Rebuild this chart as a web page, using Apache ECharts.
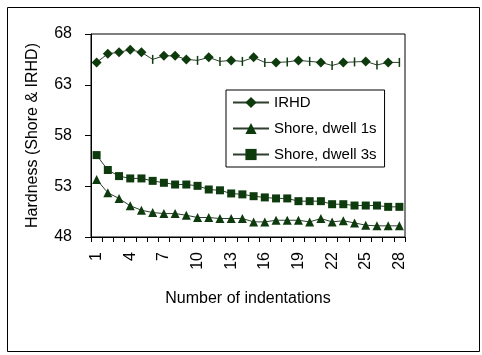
<!DOCTYPE html>
<html><head><meta charset="utf-8">
<script src="https://cdn.jsdelivr.net/npm/echarts@6/dist/echarts.min.js"></script>
<style>html,body{margin:0;padding:0;background:#fff}#c{width:482px;height:355px}</style>
</head><body><div id="c"></div>
<script>
const categories = Array.from({length: 28}, (_, i) => String(i + 1));
const irhd = [65.2,66.05,66.2,66.45,66.2,65.5,65.85,65.85,65.5,65.4,65.7,65.3,65.4,65.3,65.7,65.2,65.2,65.25,65.4,65.3,65.2,64.9,65.2,65.25,65.3,64.95,65.2,65.2];
const shore1s = [53.67,52.35,51.8,51.07,50.64,50.41,50.31,50.31,50.14,49.92,49.92,49.82,49.82,49.82,49.49,49.49,49.65,49.65,49.65,49.49,49.82,49.49,49.6,49.39,49.16,49.1,49.1,49.1];
const shore3s = [56.07,54.6,54.0,53.77,53.77,53.53,53.34,53.17,53.17,53.04,52.68,52.6,52.29,52.2,52.02,51.9,51.8,51.8,51.53,51.53,51.53,51.23,51.23,51.1,51.1,51.1,50.97,50.97];
const seriesNames = ['IRHD', 'Shore, dwell 1s', 'Shore, dwell 3s'];
const yTicks = [48, 53, 58, 63, 68];

// indentations where the IRHD marker is drawn as a plain vertical tick
const irhdTickOnly = [6, 10, 12, 14, 16, 18, 20, 22, 24, 26, 28];

const FONT = 'Liberation Sans, Arial, sans-serif';
const MARK = '#0e3b0e';
const LINE = '#2f3f2f';

const chart = echarts.init(document.getElementById('c'), null, {renderer: 'canvas'});
chart.setOption({
  animation: false,
  backgroundColor: '#fff',
  graphic: [{
    type: 'rect', left: 5, top: 5, shape: {width: 472, height: 344},
    style: {fill: 'none', stroke: '#000', lineWidth: 1}, silent: true
  }],
  grid: {left: 91, right: 77, top: 34, height: 203, show: true, borderColor: '#000', borderWidth: 1, backgroundColor: 'transparent'},
  legend: {
    orient: 'vertical', left: 226, top: 90,
    data: seriesNames,
    backgroundColor: '#fff', borderColor: '#000', borderWidth: 1,
    padding: [5, 8, 5, 6], itemGap: 11, itemWidth: 36, itemHeight: 14,
    textStyle: {fontFamily: FONT, fontSize: 15, color: '#000'}
  },
  xAxis: {
    type: 'category', data: categories, boundaryGap: true,
    name: 'Number of indentations', nameLocation: 'middle', nameGap: 54,
    nameTextStyle: {fontFamily: FONT, fontSize: 16, color: '#000'},
    axisLine: {lineStyle: {color: '#000', width: 1}},
    axisTick: {show: true, interval: 0, length: 5, lineStyle: {color: '#000'}},
    axisLabel: {interval: 2, rotate: 90, fontFamily: FONT, fontSize: 16, color: '#000', margin: 15},
    splitLine: {show: false}
  },
  yAxis: {
    type: 'value', min: 48, max: 68, interval: 5,
    name: 'Hardness (Shore & IRHD)', nameLocation: 'middle', nameGap: 50,
    nameTextStyle: {fontFamily: FONT, fontSize: 16, color: '#000'},
    axisLine: {show: true, lineStyle: {color: '#000', width: 1}},
    axisTick: {show: true, length: 6, lineStyle: {color: '#000'}},
    axisLabel: {fontFamily: FONT, fontSize: 16, color: '#000', margin: 19,
      formatter: v => yTicks.includes(v) ? String(v) : ''},
    splitLine: {show: false}
  },
  series: [
    {
      name: seriesNames[0], type: 'line', showAllSymbol: true,
      data: irhd.map((v, i) => irhdTickOnly.includes(i + 1)
        ? {value: v, symbol: 'rect', symbolSize: [1.5, 9]}
        : v),
      symbol: 'diamond', symbolSize: 10,
      lineStyle: {color: LINE, width: 1},
      itemStyle: {color: MARK}
    },
    {
      name: seriesNames[1], type: 'line', data: shore1s, showAllSymbol: true,
      symbol: 'triangle', symbolSize: 9,
      lineStyle: {color: LINE, width: 1},
      itemStyle: {color: MARK}
    },
    {
      name: seriesNames[2], type: 'line', data: shore3s, showAllSymbol: true,
      symbol: 'rect', symbolSize: 8,
      lineStyle: {color: LINE, width: 1},
      itemStyle: {color: MARK}
    }
  ]
});
</script>
</body></html>
